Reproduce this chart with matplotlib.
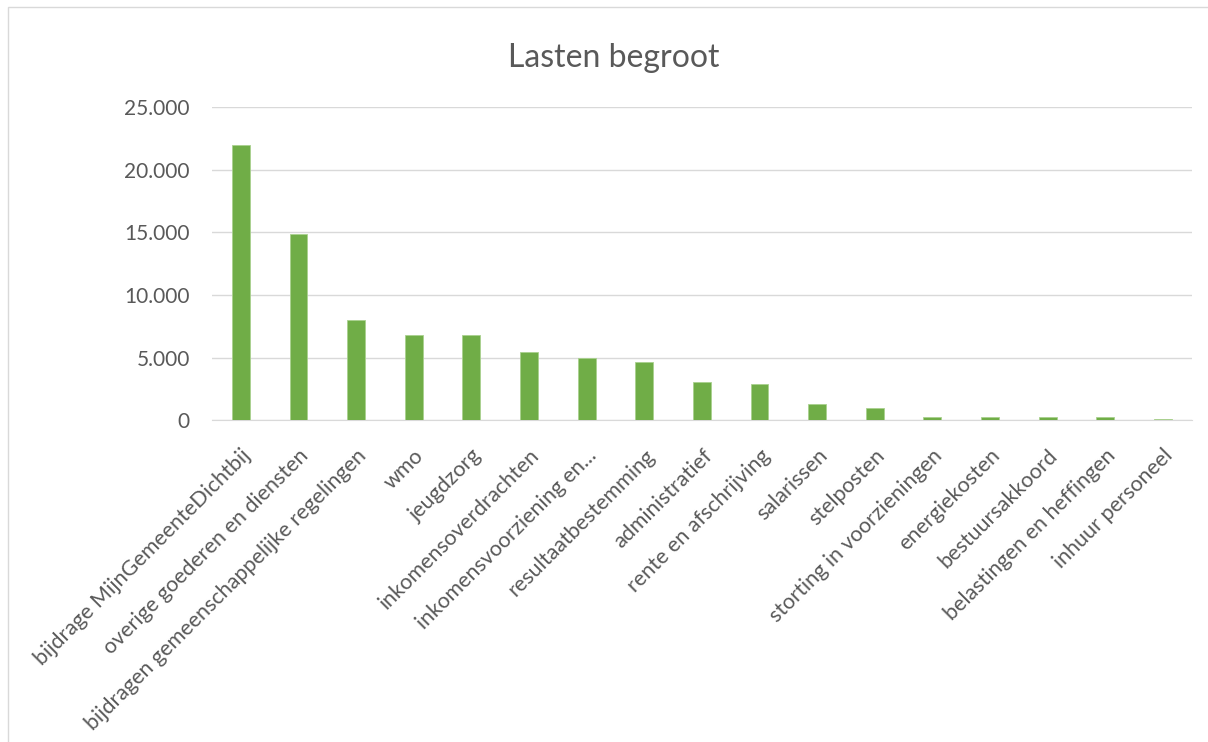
import numpy as np
import matplotlib.pyplot as plt
from matplotlib.ticker import FuncFormatter
from matplotlib.patches import Rectangle

categories = [
    "bijdrage MijnGemeenteDichtbij",
    "overige goederen en diensten",
    "bijdragen gemeenschappelijke regelingen",
    "wmo",
    "jeugdzorg",
    "inkomensoverdrachten",
    "inkomensvoorziening en...",
    "resultaatbestemming",
    "administratief",
    "rente en afschrijving",
    "salarissen",
    "stelposten",
    "storting in voorzieningen",
    "energiekosten",
    "bestuursakkoord",
    "belastingen en heffingen",
    "inhuur personeel",
]
values = [22000, 14850, 8050, 6800, 6800, 5430, 5000, 4630, 3060, 2900,
          1330, 1010, 300, 300, 300, 300, 150]
yticks = [0, 5000, 10000, 15000, 20000, 25000]

plt.rcParams['font.family'] = ['Lato', 'DejaVu Sans']
textColor = '#595959'

fig = plt.figure(figsize=(12.08, 7.42), dpi=100)
fig.patches.append(Rectangle((0.007, -0.01), 1.1, 1.0, transform=fig.transFigure,
                             fill=False, edgecolor='#d9d9d9', linewidth=1))
ax = fig.add_axes([0.1755, 0.4333, 0.811, 0.4225])

x = np.arange(len(categories))
ax.bar(x, values, width=0.31, color='#70ad47', edgecolor='#a9d18e', linewidth=0.6, zorder=3)

ax.set_xlim(-0.5, len(categories) - 0.5)
ax.set_ylim(0, 25000)
ax.set_yticks(yticks)
ax.yaxis.set_major_formatter(FuncFormatter(lambda v, p: f"{int(v):,}".replace(",", ".")))
ax.grid(axis='y', color='#d9d9d9', linewidth=1, zorder=0)
for s in ['top', 'right', 'left']:
    ax.spines[s].set_visible(False)
ax.spines['bottom'].set_color('#d9d9d9')
ax.tick_params(axis='y', length=0, colors=textColor, labelsize=15, pad=16)

ax.set_xticks(x)
ax.set_xticklabels(categories, rotation=45, ha='right', rotation_mode='anchor')
ax.tick_params(axis='x', length=0, colors=textColor, labelsize=15.5, pad=18)

fig.text(0.508, 0.922, "Lasten begroot", ha='center', va='center', fontsize=23, color=textColor)

fig.savefig("out.png", dpi=100)
